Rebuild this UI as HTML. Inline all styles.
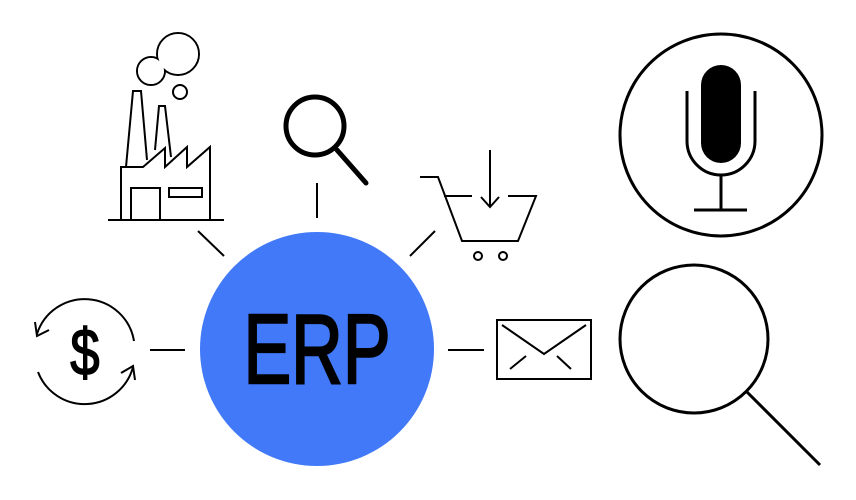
<!DOCTYPE html>
<html><head><meta charset="utf-8"><style>
html,body{margin:0;padding:0;background:#fff;}
svg{display:block;}
</style></head><body>
<svg width="856" height="500" viewBox="0 0 856 500" xmlns="http://www.w3.org/2000/svg">
<g fill="none" stroke="#000" stroke-width="2">
<!-- factory -->
<line x1="108" y1="220" x2="224" y2="220"/>
<polyline points="121,220 121,167 143,167 165,148 165,167 187,147 187,167 210,147 210,220"/>
<polyline points="126,167 133,91 141,91 147,160"/>
<polyline points="155,150 159,106 165,106 171,157"/>
<polyline points="131,220 131,188 160,188 160,220"/>
<rect x="169" y="188" width="33" height="9"/>
<circle cx="151" cy="71" r="14"/>
<circle cx="178" cy="54" r="21"/>
<circle cx="151" cy="71" r="13" fill="#fff" stroke="none"/>
<circle cx="178" cy="54" r="20" fill="#fff" stroke="none"/>
<circle cx="180" cy="92" r="7"/>
<!-- connectors -->
<line x1="198" y1="231" x2="224" y2="256"/>
<line x1="317" y1="183" x2="317" y2="218"/>
<line x1="410" y1="256" x2="435" y2="231"/>
<line x1="150" y1="350" x2="185" y2="350"/>
<line x1="448" y1="350" x2="484" y2="350"/>
<!-- cart -->
<polyline points="420,177 438,177 462,241 518,241 536,196 508,196"/>
<line x1="444" y1="196" x2="472" y2="196"/>
<line x1="490" y1="150" x2="490" y2="207"/>
<polyline points="481,197 490,207 499,197"/>
<circle cx="478" cy="256" r="4"/>
<circle cx="503" cy="256" r="4"/>
<!-- envelope -->
<rect x="497" y="320" width="94" height="59"/>
<polyline points="502,325 544,354 586,325"/>
<line x1="510" y1="369" x2="526" y2="356"/>
<line x1="571" y1="369" x2="557" y2="356"/>
<!-- dollar arrows -->
<path d="M37,334 A50,50 0 0 1 134,341"/>
<path d="M38,372 A50,50 0 0 0 133,367"/>
<polyline points="35,322 37,336 49,330"/>
<polyline points="121,373 133,366 135,380"/>
<!-- mic -->
<circle cx="721" cy="135" r="101" stroke-width="3"/>
<path d="M687,91 V141 A34,34 0 0 0 755,141 V91" stroke-width="3"/>
<line x1="721" y1="175" x2="721" y2="210" stroke-width="3"/>
<line x1="694" y1="210" x2="747" y2="210" stroke-width="3"/>
<!-- big magnifier -->
<circle cx="694" cy="339" r="74" stroke-width="3"/>
<line x1="747" y1="392" x2="820" y2="465" stroke-width="3"/>
<!-- small magnifier -->
<circle cx="315" cy="126" r="29" stroke-width="5"/>
<line x1="337" y1="150" x2="366" y2="183" stroke-width="5" stroke-linecap="round"/>
</g>
<rect x="701" y="65" width="40" height="98" rx="20" fill="#000"/>
<circle cx="317" cy="349" r="117" fill="#4179F9"/>
<text x="317" y="383" text-anchor="middle" font-family="Liberation Sans, sans-serif" font-size="98" fill="#000" stroke="#000" stroke-width="2.5" transform="translate(317 0) scale(0.73 1) translate(-317 0)">ERP</text>
<text x="85" y="375" text-anchor="middle" font-family="Liberation Sans, sans-serif" font-size="66" fill="#000" stroke="#000" stroke-width="1.5" transform="translate(85 0) scale(0.8 1) translate(-85 0)">$</text>
</svg>
</body></html>
